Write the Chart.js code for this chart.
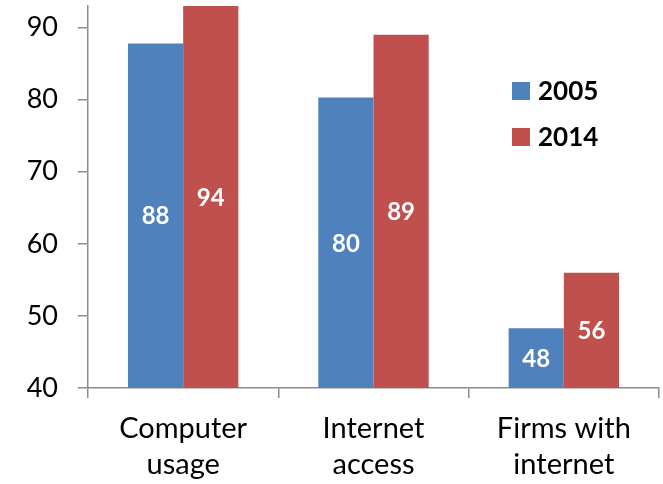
<!DOCTYPE html>
<html>
<head>
<meta charset="utf-8">
<script src="https://cdn.jsdelivr.net/npm/chart.js@4.4.1/dist/chart.umd.min.js"></script>
<style>
  html, body { margin: 0; padding: 0; background: #fff; }
  #wrap { width: 663px; height: 484px; position: relative; }
</style>
</head>
<body>
<div id="wrap"><canvas id="c" width="663" height="484"></canvas></div>
<script>
const categories = [["Computer", "usage"], ["Internet", "access"], ["Firms with", "internet"]];
const seriesNames = ["2005", "2014"];
const values2005 = [87.8, 80.3, 48.3];
const values2014 = [94, 89, 56];
const yTicks = [40, 50, 60, 70, 80, 90];

const BLUE = "#4F81BD";
const RED = "#C0504D";
const AXIS = "#8C8C8C";
const FONT = "Lato, 'Open Sans', sans-serif";

const barLabels = {
  id: "barLabels",
  afterDatasetsDraw(chart) {
    const ctx = chart.ctx;
    const area = chart.chartArea;
    ctx.save();
    ctx.fillStyle = "#fff";
    ctx.font = "bold 24px " + FONT;
    ctx.textAlign = "center";
    ctx.textBaseline = "middle";
    chart.data.datasets.forEach((ds, di) => {
      chart.getDatasetMeta(di).data.forEach((bar, i) => {
        const top = Math.max(bar.y, area.top);
        const bottom = Math.min(bar.base, area.bottom);
        const cy = (top + bottom) / 2;
        ctx.fillText(String(Math.round(ds.data[i])), bar.x, cy + 1);
      });
    });
    ctx.restore();
  }
};

const customLegend = {
  id: "customLegend",
  afterDraw(chart) {
    const ctx = chart.ctx;
    ctx.save();
    ctx.font = "bold 26px " + FONT;
    ctx.textBaseline = "middle";
    ctx.textAlign = "left";
    chart.data.datasets.forEach((ds, i) => {
      const y = 82 + i * 46;
      ctx.fillStyle = ds.backgroundColor;
      ctx.fillRect(512, y, 18, 18);
      ctx.fillStyle = "#000";
      ctx.fillText(ds.label, 538, y + 10);
    });
    ctx.restore();
  }
};

new Chart(document.getElementById("c"), {
  type: "bar",
  data: {
    labels: categories,
    datasets: [
      { label: seriesNames[0], data: values2005, backgroundColor: BLUE },
      { label: seriesNames[1], data: values2014, backgroundColor: RED }
    ]
  },
  options: {
    responsive: false,
    animation: false,
    devicePixelRatio: 1,
    layout: { padding: { top: 6, right: 4, left: 0, bottom: 0 } },
    datasets: { bar: { categoryPercentage: 0.58, barPercentage: 1.0 } },
    plugins: { legend: { display: false }, tooltip: { enabled: false } },
    scales: {
      x: {
        grid: { display: true, drawOnChartArea: false, offset: true, color: AXIS, tickLength: 10, lineWidth: 1.5 },
        border: { color: AXIS, width: 1.5 },
        ticks: { color: "#000", font: { family: FONT, size: 29, lineHeight: 1.24 }, padding: 13, maxRotation: 0, autoSkip: false },
        afterFit(s) { s.height = 96; s.paddingLeft = 0; s.paddingRight = 0; }
      },
      y: {
        min: 40,
        max: 93,
        grid: { display: true, drawOnChartArea: false, color: AXIS, tickLength: 10, lineWidth: 1.5 },
        border: { color: AXIS, width: 1.5 },
        ticks: { stepSize: 10, color: "#000", font: { family: FONT, size: 27 }, padding: 20 },
        afterBuildTicks(s) { s.ticks = yTicks.map(v => ({ value: v })); },
        afterFit(s) { s.width = 88; s.paddingTop = 0; s.paddingBottom = 0; }
      }
    }
  },
  plugins: [barLabels, customLegend]
});
</script>
</body>
</html>
